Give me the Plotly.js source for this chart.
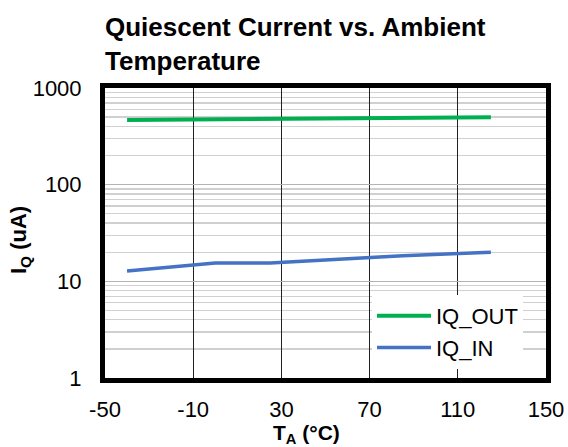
<!DOCTYPE html>
<html>
<head>
<meta charset="utf-8">
<script src="https://cdn.plot.ly/plotly-3.0.1.min.js"></script>
<style>html,body{margin:0;padding:0;background:#fff}#chart{width:568px;height:447px}</style>
</head>
<body>
<div id="chart"></div>
<script>
const temps = [-40, 0, 25, 85, 125];
const iqOut = [466, 475, 478, 488, 497];
const iqIn = [12.8, 15.5, 15.5, 18.4, 20.0];
const xTicks = [-50, -10, 30, 70, 110, 150];
const yTicks = [1, 10, 100, 1000];
const seriesNames = ['IQ_OUT', 'IQ_IN'];

const FONT = 'Arial, "Liberation Sans", sans-serif';

const traces = [
  {x: temps, y: iqOut, name: seriesNames[0], type: 'scatter', mode: 'lines',
   line: {color: '#00B050', width: 4}},
  {x: temps, y: iqIn, name: seriesNames[1], type: 'scatter', mode: 'lines',
   line: {color: '#4472C4', width: 3.5}}
];

const layout = {
  width: 568, height: 447,
  margin: {l: 105, r: 22, t: 88, b: 69},
  paper_bgcolor: '#fff', plot_bgcolor: '#fff',
  font: {family: FONT, color: '#000', size: 20},
  title: {text: '<b>Quiescent Current vs. Ambient<br>Temperature</b>',
          font: {family: FONT, size: 26, color: '#000'},
          x: 105/568, xref: 'container', xanchor: 'left',
          y: 1 - 36/447, yref: 'container', yanchor: 'top'},
  xaxis: {range: [-50, 150], tickvals: xTicks, ticktext: xTicks.map(String),
          showgrid: true, gridcolor: '#222', gridwidth: 1.3,
          zeroline: false, showline: true, linecolor: '#000', linewidth: 5, mirror: true,
          ticks: '', ticklabelstandoff: 8,
          tickfont: {family: FONT, size: 22, color: '#000'},
          title: {text: ''}},
  yaxis: {type: 'log', range: [0, 3], tickvals: yTicks, ticktext: yTicks.map(String),
          showgrid: true, gridcolor: '#b4b4b4', gridwidth: 1.3,
          minor: {dtick: 'D1', showgrid: true, gridcolor: '#d0d0d0', gridwidth: 1.3, ticks: ''},
          zeroline: false, showline: true, linecolor: '#000', linewidth: 5, mirror: true,
          ticks: '', ticklabelstandoff: 14,
          tickfont: {family: FONT, size: 22, color: '#000'},
          title: {text: ''}},
  showlegend: true,
  legend: {x: (372-105)/441, xanchor: 'left', y: (378-295)/290, yanchor: 'top',
           bgcolor: '#fff', borderwidth: 0, itemwidth: 54, tracegroupgap: 0,
           font: {family: FONT, size: 22, color: '#000'}},
  annotations: [
    {text: '<b>T<sub>A</sub> (°C)</b>', xref: 'paper', yref: 'paper',
     x: (306-105)/441, y: -(434-378)/290, xanchor: 'center', yanchor: 'middle',
     showarrow: false, font: {family: FONT, size: 21, color: '#000'}},
    {text: '<b>I<sub>Q</sub> (uA)</b>', xref: 'paper', yref: 'paper',
     x: -(105-20)/441, y: (378-240)/290, xanchor: 'center', yanchor: 'middle', textangle: -90,
     showarrow: false, font: {family: FONT, size: 22, color: '#000'}}
  ]
};

Plotly.newPlot('chart', traces, layout, {displayModeBar: false, staticPlot: true}).then(function(gd){
  gd.querySelectorAll('.legend .legendlines path').forEach(function(p){
    p.setAttribute('d', 'M5,0h54');
  });
});
</script>
</body>
</html>
